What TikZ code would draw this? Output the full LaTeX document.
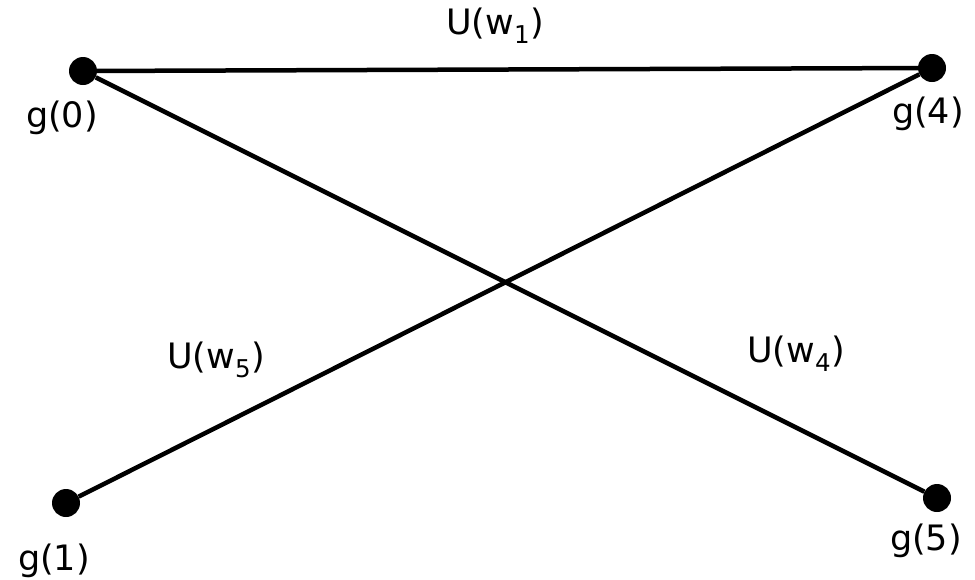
\documentclass[tikz,border=0pt]{standalone}
\usepackage{fontspec}
\setmainfont{DejaVu Sans}
\usetikzlibrary{positioning}

\begin{document}
\begin{tikzpicture}[x=1pt,y=-1pt,font=\fontsize{35}{40}\selectfont,
  dot/.style={circle,fill,inner sep=0pt,minimum size=28pt},
  edge/.style={line width=4.5pt},
  lbl/.style={inner sep=0pt}]
\useasboundingbox (0,0) rectangle (975,579);
% the four points
\node[dot] (g0) at (83,71) {};
\node[dot] (g4) at (932,68) {};
\node[dot] (g1) at (66,503) {};
\node[dot] (g5) at (937,498) {};
\node[lbl] (t0) at (62,118) {g(0)};
\node[lbl] (t4) at (928,114) {g(4)};
\node[lbl] (t1) at (54,561) {g(1)};
\node[lbl] (t5) at (926,541) {g(5)};
% edges
\draw[edge] (g0) -- (g4);
\draw[edge] (g0) -- (g5);
\draw[edge] (g1) -- (g4);
\node[lbl] (u1) at (495,26) {U(w\textsubscript{1})};
\node[lbl] (u5) at (216,360) {U(w\textsubscript{5})};
\node[lbl] (u4) at (796,354) {U(w\textsubscript{4})};
\end{tikzpicture}
\end{document}
